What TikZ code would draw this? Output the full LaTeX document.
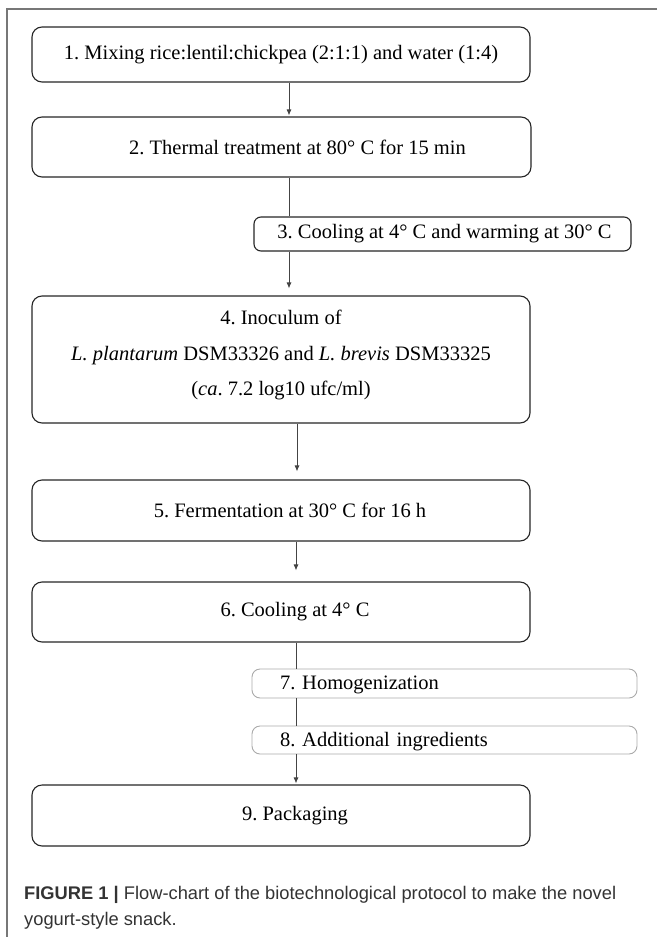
\documentclass[tikz,border=0pt]{standalone}
\usepackage{fontspec}
\setmainfont{Liberation Serif}
\newfontfamily\capfont{Liberation Sans}
\usetikzlibrary{arrows.meta}
\frenchspacing
\definecolor{framegray}{HTML}{777777}
\definecolor{linegray}{HTML}{444444}
\definecolor{lightedge}{HTML}{AAAAAA}
\definecolor{captext}{HTML}{333333}
\tikzset{
  stepbox/.style={draw=black!85, line width=1.1pt, rounded corners=10pt, fill=white,
    inner sep=0pt, font=\fontsize{20.5}{24}\selectfont\frenchspacing, align=center},
  sidebox/.style={draw=lightedge, line width=0.9pt, rounded corners=8pt, fill=white,
    inner ysep=0pt, inner xsep=28pt, text width=329pt, align=left,
    font=\fontsize{20.5}{24}\selectfont\frenchspacing},
  conn/.style={draw=linegray, line width=0.9pt},
  arr/.style={conn, -{Latex[length=6pt,width=5pt]}},
  captxt/.style={anchor=base west, inner sep=0pt, text=captext,
    font=\capfont\fontsize{18.3}{24}\selectfont\frenchspacing}
}
\begin{document}
\begin{tikzpicture}[x=1pt,y=-1pt]
\useasboundingbox (0,0) rectangle (657,937);
% frame
\draw[framegray, line width=1.5pt] (657,9) -- (7,9) -- (7,937);
% boxes
\node[stepbox, minimum width=498pt, minimum height=55pt] (b1) at (281,54.5)
  {1. Mixing rice:lentil:chickpea (2:1:1) and water (1:4)};
\node[stepbox, minimum width=499pt, minimum height=60pt] (b2) at (281.5,147)
  {\hspace*{32pt}2. Thermal treatment at 80° C for 15 min};
\node[stepbox, minimum width=377pt, minimum height=34pt, rounded corners=7pt] (b3) at (442.5,234)
  {\hspace*{4pt}3. Cooling at 4° C and warming at 30° C};
\node[stepbox, minimum width=498pt, minimum height=127pt] (b4) at (281,359.5)
  {4. Inoculum of\\[11.5pt]
   \textit{L. plantarum} DSM33326 and \textit{L. brevis} DSM33325\\[11.5pt]
   (\textit{ca}. 7.2 log10 ufc/ml)\rule[-12.5pt]{0pt}{1pt}};
\node[stepbox, minimum width=498pt, minimum height=61pt] (b5) at (281,510.5)
  {\hspace*{18pt}5. Fermentation at 30° C for 16 h};
\node[stepbox, minimum width=498pt, minimum height=60pt] (b6) at (281,612)
  {\hspace*{28pt}6. Cooling at 4° C};
\node[sidebox, minimum height=29pt] (b7) at (444.5,683.5) {7. Homogenization\rule{0pt}{17pt}};
\node[sidebox, minimum height=28pt] (b8) at (444.5,740) {8. Additional ingredients\rule{0pt}{17pt}};
\node[stepbox, minimum width=498pt, minimum height=61pt] (b9) at (281,815.5)
  {\hspace*{28pt}9. Packaging};
% connector columns
\coordinate (c1) at (289,0);
\coordinate (c2) at (297,0);
\coordinate (c3) at (296,0);
\draw[arr, shorten >=1pt] (b1.south -| c1) -- (b2.north -| c1);
\draw[conn] (b2.south -| c1) -- (b3.north -| c1);
\draw[arr, shorten >=7pt] (b3.south -| c1) -- (b4.north -| c1);
\draw[arr, shorten >=8pt] (b4.south -| c2) -- (b5.north -| c2);
\draw[arr, shorten >=11pt] (b5.south -| c3) -- (b6.north -| c3);
\draw[conn] (b6.south -| c3) -- (b7.north -| c3);
\draw[conn] (b7.south -| c3) -- (b8.north -| c3);
\draw[arr, shorten >=1pt] (b8.south -| c3) -- (b9.north -| c3);
% caption
\node[captxt] (cap1) at (24,899)
  {\textbf{FIGURE 1 |} Flow-chart of the biotechnological protocol to make the novel};
\node[captxt] (cap2) at (24,925) {yogurt-style snack.};
\end{tikzpicture}
\end{document}
